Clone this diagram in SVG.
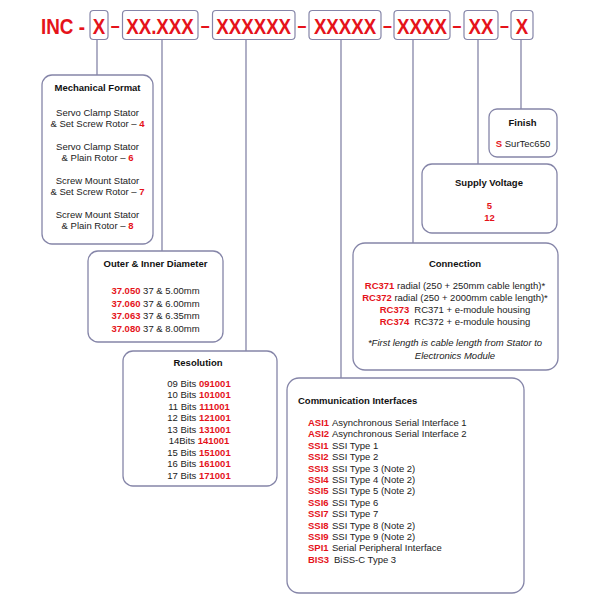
<svg xmlns="http://www.w3.org/2000/svg" width="600" height="600" viewBox="0 0 600 600">
<style>
text{font-family:"Liberation Sans",Arial,sans-serif;fill:#222}
.big{font-size:22.5px;font-weight:bold;fill:#e5131b;text-anchor:middle}
.d{font-size:20px;font-weight:bold;fill:#e5131b;text-anchor:middle}
.t{font-size:9.5px;font-weight:bold;fill:#111}
.b{font-size:9.5px}
.r{fill:#e5131b;font-weight:bold}
.tb{fill:#fff;stroke:#8585a8;stroke-width:1.2}
.nb{fill:#fff;stroke:#8585a8;stroke-width:1.3}
.c{stroke:#8585a8;stroke-width:1.3;fill:none}
.m{text-anchor:middle}
.i{font-style:italic}
</style>
<rect width="600" height="600" fill="#fff"/>
<g id="connectors">
<line class="c" x1="97" y1="39.5" x2="97" y2="75"/>
<line class="c" x1="162" y1="39.5" x2="162" y2="251"/>
<line class="c" x1="246" y1="39.5" x2="246" y2="351"/>
<line class="c" x1="341" y1="39.5" x2="341" y2="378"/>
<line class="c" x1="413" y1="39.5" x2="413" y2="243"/>
<line class="c" x1="478" y1="39.5" x2="478" y2="164"/>
<line class="c" x1="521" y1="39.5" x2="521" y2="109"/>
</g>
<g id="code">
<text class="big" transform="translate(63,33.5) scale(0.84,1)">INC -</text>
<rect class="tb" x="90" y="10.5" width="18" height="29" rx="3.5"/>
<text class="big" transform="translate(99,33.5) scale(0.83,1)">X</text>
<text class="d" transform="translate(115.3,32) scale(0.8,1)">–</text>
<rect class="tb" x="122.5" y="10.5" width="75.5" height="29" rx="3.5"/>
<text class="big" transform="translate(160,33.5) scale(0.83,1)">XX.XXX</text>
<text class="d" transform="translate(205.2,32) scale(0.8,1)">–</text>
<rect class="tb" x="212.5" y="10.5" width="82.5" height="29" rx="3.5"/>
<text class="big" transform="translate(253.7,33.5) scale(0.83,1)">XXXXXX</text>
<text class="d" transform="translate(302,32) scale(0.8,1)">–</text>
<rect class="tb" x="309" y="10.5" width="72" height="29" rx="3.5"/>
<text class="big" transform="translate(345,33.5) scale(0.83,1)">XXXXX</text>
<text class="d" transform="translate(387.5,32) scale(0.8,1)">–</text>
<rect class="tb" x="394" y="10.5" width="56" height="29" rx="3.5"/>
<text class="big" transform="translate(422,33.5) scale(0.83,1)">XXXX</text>
<text class="d" transform="translate(457,32) scale(0.8,1)">–</text>
<rect class="tb" x="464" y="10.5" width="34" height="29" rx="3.5"/>
<text class="big" transform="translate(481,33.5) scale(0.83,1)">XX</text>
<text class="d" transform="translate(504.5,32) scale(0.8,1)">–</text>
<rect class="tb" x="511" y="10.5" width="22" height="29" rx="3.5"/>
<text class="big" transform="translate(522,33.5) scale(0.83,1)">X</text>
</g>
<g id="mechanical">
<rect class="nb" x="42" y="75" width="111" height="169" rx="10"/>
<text class="t m" x="97.5" y="91">Mechanical Format</text>
<text class="b m" x="97.5" y="116">Servo Clamp Stator</text>
<text class="b m" x="97.5" y="127">&amp; Set Screw Rotor – <tspan class="r">4</tspan></text>
<text class="b m" x="97.5" y="150">Servo Clamp Stator</text>
<text class="b m" x="97.5" y="161">&amp; Plain Rotor – <tspan class="r">6</tspan></text>
<text class="b m" x="97.5" y="184">Screw Mount Stator</text>
<text class="b m" x="97.5" y="195">&amp; Set Screw Rotor – <tspan class="r">7</tspan></text>
<text class="b m" x="97.5" y="218">Screw Mount Stator</text>
<text class="b m" x="97.5" y="229">&amp; Plain Rotor – <tspan class="r">8</tspan></text>
</g>
<g id="diameter">
<rect class="nb" x="88" y="251" width="135" height="91" rx="10"/>
<text class="t m" x="155.5" y="267">Outer &amp; Inner Diameter</text>
<text class="b m" x="155.5" y="294"><tspan class="r">37.050</tspan> 37 &amp; 5.00mm</text>
<text class="b m" x="155.5" y="306.5"><tspan class="r">37.060</tspan> 37 &amp; 6.00mm</text>
<text class="b m" x="155.5" y="319"><tspan class="r">37.063</tspan> 37 &amp; 6.35mm</text>
<text class="b m" x="155.5" y="331.5"><tspan class="r">37.080</tspan> 37 &amp; 8.00mm</text>
</g>
<g id="resolution">
<rect class="nb" x="123" y="351" width="154" height="135" rx="10"/>
<text class="t m" x="198" y="366">Resolution</text>
<text class="b m" x="199" y="386.5">09 Bits <tspan class="r">091001</tspan></text>
<text class="b m" x="199" y="398">10 Bits <tspan class="r">101001</tspan></text>
<text class="b m" x="199" y="409.5">11 Bits <tspan class="r">111001</tspan></text>
<text class="b m" x="199" y="421">12 Bits <tspan class="r">121001</tspan></text>
<text class="b m" x="199" y="432.5">13 Bits <tspan class="r">131001</tspan></text>
<text class="b m" x="199" y="444">14Bits <tspan class="r">141001</tspan></text>
<text class="b m" x="199" y="455.5">15 Bits <tspan class="r">151001</tspan></text>
<text class="b m" x="199" y="467">16 Bits <tspan class="r">161001</tspan></text>
<text class="b m" x="199" y="478.5">17 Bits <tspan class="r">171001</tspan></text>
</g>
<g id="communication">
<rect class="nb" x="287" y="378" width="237" height="215" rx="12"/>
<text class="t" x="298" y="404">Communication Interfaces</text>
<text class="b" x="308" y="426"><tspan class="r">ASI1</tspan><tspan x="332">Asynchronous Serial Interface 1</tspan></text>
<text class="b" x="308" y="437.4"><tspan class="r">ASI2</tspan><tspan x="332">Asynchronous Serial Interface 2</tspan></text>
<text class="b" x="308" y="448.8"><tspan class="r">SSI1</tspan><tspan x="332">SSI Type 1</tspan></text>
<text class="b" x="308" y="460.2"><tspan class="r">SSI2</tspan><tspan x="332">SSI Type 2</tspan></text>
<text class="b" x="308" y="471.6"><tspan class="r">SSI3</tspan><tspan x="332">SSI Type 3 (Note 2)</tspan></text>
<text class="b" x="308" y="483"><tspan class="r">SSI4</tspan><tspan x="332">SSI Type 4 (Note 2)</tspan></text>
<text class="b" x="308" y="494.4"><tspan class="r">SSI5</tspan><tspan x="332">SSI Type 5 (Note 2)</tspan></text>
<text class="b" x="308" y="505.8"><tspan class="r">SSI6</tspan><tspan x="332">SSI Type 6</tspan></text>
<text class="b" x="308" y="517.2"><tspan class="r">SSI7</tspan><tspan x="332">SSI Type 7</tspan></text>
<text class="b" x="308" y="528.6"><tspan class="r">SSI8</tspan><tspan x="332">SSI Type 8 (Note 2)</tspan></text>
<text class="b" x="308" y="540"><tspan class="r">SSI9</tspan><tspan x="332">SSI Type 9 (Note 2)</tspan></text>
<text class="b" x="308" y="551.4"><tspan class="r">SPI1</tspan><tspan x="332">Serial Peripheral Interface</tspan></text>
<text class="b" x="308" y="562.8"><tspan class="r">BIS3</tspan><tspan x="334">BiSS-C Type 3</tspan></text>
</g>
<g id="connection">
<rect class="nb" x="353" y="243" width="205" height="127" rx="12"/>
<text class="t m" x="455" y="267">Connection</text>
<text class="b m" x="455" y="288.5"><tspan class="r">RC371</tspan> radial (250 + 250mm cable length)*</text>
<text class="b m" x="455" y="300.5"><tspan class="r">RC372</tspan> radial (250 + 2000mm cable length)*</text>
<text class="b m" x="455" y="312.5"><tspan class="r">RC373</tspan><tspan dx="5">RC371 + e-module housing</tspan></text>
<text class="b m" x="455" y="324.5"><tspan class="r">RC374</tspan><tspan dx="5">RC372 + e-module housing</tspan></text>
<text class="b m i" x="455" y="346">*First length is cable length from Stator to</text>
<text class="b m i" x="455" y="358.5">Electronics Module</text>
</g>
<g id="supply">
<rect class="nb" x="422" y="164" width="135" height="69" rx="10"/>
<text class="t m" x="489" y="185.5">Supply Voltage</text>
<text class="b m r" x="489.5" y="209">5</text>
<text class="b m r" x="489.5" y="220.5">12</text>
</g>
<g id="finish">
<rect class="nb" x="489" y="109" width="68" height="48" rx="8"/>
<text class="t m" x="522.5" y="125.5">Finish</text>
<text class="b m" x="523" y="147"><tspan class="r">S</tspan> SurTec650</text>
</g>
</svg>
